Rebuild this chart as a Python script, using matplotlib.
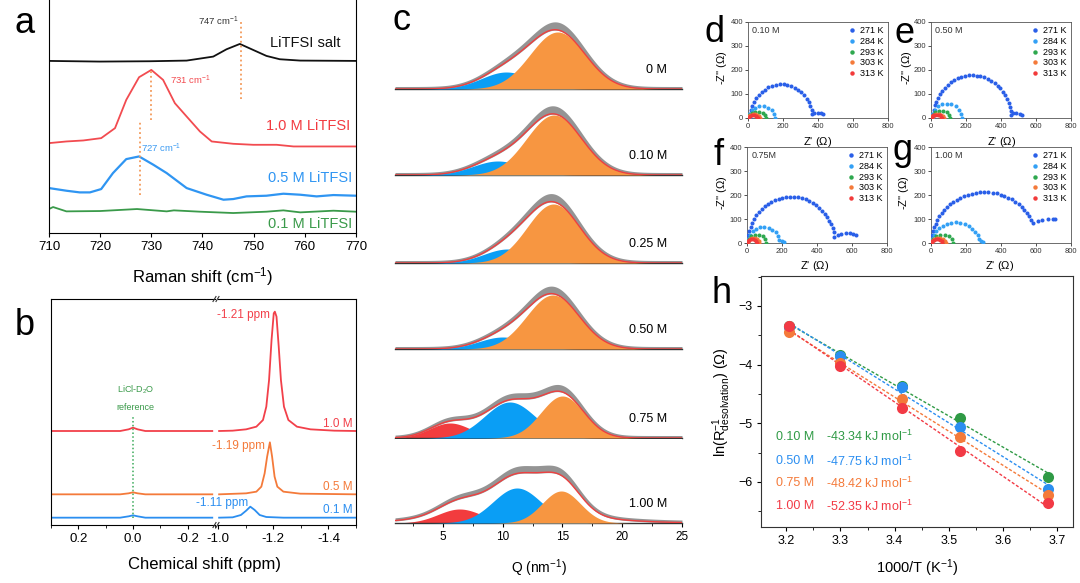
import numpy as np
import matplotlib
matplotlib.use('Agg')
import matplotlib.pyplot as plt
from matplotlib.lines import Line2D
from matplotlib.ticker import MultipleLocator

plt.rcParams['font.family'] = ['Liberation Sans', 'DejaVu Sans']
plt.rcParams['mathtext.fontset'] = 'custom'
plt.rcParams['mathtext.rm'] = 'Liberation Sans'
plt.rcParams['mathtext.it'] = 'Liberation Sans:italic'
plt.rcParams['mathtext.default'] = 'regular'
plt.rcParams['axes.linewidth'] = 0.8

# ---------------- data: panel a (Raman, stacked, a.u.) ----------------
raman_x_salt = [710, 719.9, 729.7, 736.9, 742.1, 744.7, 747.3, 749.9, 752.5, 755.1, 759.1, 770]
raman_y_salt = [517, 515, 516, 518, 530, 552, 568, 550, 532, 522, 518, 517]
raman_x_10 = [710, 713.4, 716.7, 720.2, 722.9, 725.1, 727.6, 730.0, 732.3, 734.6, 736.9, 739.5,
              741.8, 746, 749.9, 754.5, 757.8, 765.6, 770]
raman_y_10 = [270, 275, 278, 285, 315, 400, 468, 490, 460, 390, 350, 305, 275, 268, 265, 265, 260, 260, 260]
raman_x_05 = [710, 713.4, 716.0, 718.0, 720.2, 722.5, 725.1, 727.6, 730.4, 733.0, 736.9, 740.8,
              744.1, 746.0, 748.6, 752.5, 755.8, 759.1, 762.3, 765.6, 770]
raman_y_05 = [135, 127, 122, 122, 132, 180, 222, 230, 205, 180, 135, 115, 100, 102, 110, 112, 118,
              115, 110, 114, 112]
raman_x_01 = [710, 710.8, 713.4, 720.0, 727.2, 733.0, 734.4, 739.5, 746.0, 752.5, 755.8, 759.1, 765.6, 770]
raman_y_01 = [72, 78, 65, 66, 72, 65, 68, 64, 60, 64, 68, 62, 67, 64]
raman_peaks = [747.5, 730.0, 727.7]
raman_peak_lo = [402, 340, 115]
raman_peak_hi = [640, 490, 335]

# ---------------- data: panel b (7Li NMR, stacked) ----------------
nmr_left_x = [0.30, 0.047, 0.016, 0.0, -0.017, -0.045, -0.29]
nmr_left_10 = [282, 282, 287, 292, 287, 282, 282]
nmr_left_05 = [92, 92, 95, 98, 95, 92, 92]
nmr_left_01 = [22, 22, 26, 29, 26, 22, 22]
nmr_x_10 = [-1.004, -1.053, -1.102, -1.139, -1.163, -1.175, -1.185, -1.194, -1.202, -1.206, -1.212,
            -1.220, -1.228, -1.239, -1.255, -1.286, -1.335, -1.421, -1.50]
nmr_y_10 = [282, 283, 287, 295, 315, 355, 435, 555, 635, 640, 625, 535, 435, 355, 315, 295, 287, 283, 282]
nmr_x_05 = [-1.004, -1.102, -1.139, -1.157, -1.169, -1.178, -1.188, -1.196, -1.205, -1.215, -1.237, -1.298, -1.50]
nmr_y_05 = [92, 95, 100, 115, 155, 205, 248, 205, 145, 115, 100, 94, 92]
nmr_x_01 = [-1.004, -1.053, -1.083, -1.102, -1.117, -1.133, -1.151, -1.175, -1.237, -1.50]
nmr_y_01 = [22, 23, 30, 43, 55, 45, 30, 24, 22, 22]

# ---------------- data: panel c (scattering, fitted components) ----------------
c_labels = ['0 M', '0.10 M', '0.25 M', '0.50 M', '0.75 M', '1.00 M']
c_red = [(0, 5, 1), (0, 5, 1), (0, 5, 1), (0, 5, 1), (15, 5.6, 1.7), (14, 6.4, 1.8)]      # (amp, centre, width)
c_blue = [(17, 10.3, 2.1), (14, 9.6, 2.1), (14, 10.4, 2.0), (12, 10.0, 2.0), (36, 10.6, 2.1), (35, 11.2, 2.0)]
c_orange = [(57, 14.6, 2.3), (60, 14.3, 2.3), (59, 14.25, 2.2), (54, 14.2, 2.2), (42, 15.0, 1.8), (32, 14.9, 1.6)]
c_background = [(0, 11, 5.5), (0, 11, 5.5), (0, 11, 5.5), (0, 11, 5.5), (0, 11, 5.5), (12, 11, 5.5)]

# ---------------- data: panels d-g (Nyquist) ----------------
eis_titles = ['0.10 M', '0.50 M', '0.75M', '1.00 M']
eis_letters = ['d', 'e', 'f', 'g']
eis_temps = ['271 K', '284 K', '293 K', '303 K', '313 K']
arc_center = [[190, 78, 52, 34, 29], [235, 90, 57, 38, 31], [253, 95, 57, 37, 29], [306, 140, 65, 44, 33]]
arc_rx = [[178, 75, 50, 32, 27], [224, 86, 52, 34, 29], [249, 90, 53, 34, 28], [302, 135, 60, 42, 30]]
arc_ry = [[140, 50, 26, 17, 13], [178, 60, 30, 18, 14], [193, 67, 35, 20, 17], [212, 86, 36, 21, 16]]
arc_end_deg = [[6, 0, 0, 0, 0], [4, 0, 0, 0, 0], [8, 10, 0, 0, 0], [23, 10, 0, 0, 0]]
tail_x_271 = [[379, 398, 417, 429], [468, 488, 507, 518], [520, 539, 568, 588, 607, 621], [609, 637, 666, 695, 710]]
tail_y_271 = [[22, 22, 19, 17], [21, 21, 17, 14], [35, 39, 42, 40, 38, 32], [93, 97, 100, 101, 101]]
tail_x_284 = [[], [], [200, 210], [285, 298]]
tail_y_284 = [[], [], [7, 3], [10, 4]]

# ---------------- data: panel h (Arrhenius) ----------------
h_x = [3.205, 3.300, 3.413, 3.521, 3.683]
h_labels = ['0.10 M', '0.50 M', '0.75 M', '1.00 M']
h_energy = ['-43.34 kJ mol$^{-1}$', '-47.75 kJ mol$^{-1}$', '-48.42 kJ mol$^{-1}$', '-52.35 kJ mol$^{-1}$']
h_y_010 = [-3.34, -3.84, -4.37, -4.91, -5.91]
h_y_050 = [-3.36, -3.85, -4.38, -5.07, -6.12]
h_y_075 = [-3.45, -3.98, -4.59, -5.23, -6.23]
h_y_100 = [-3.35, -4.03, -4.74, -5.48, -6.36]

# ---------------- figure ----------------
W, H = 1080, 583
fig = plt.figure(figsize=(W / 100, H / 100), dpi=100)


def rect(l, t, r, b):
    return [l / W, 1 - b / H, (r - l) / W, (b - t) / H]


def ftext(x, y, s, **kw):
    fig.text(x / W, 1 - y / H, s, **kw)


C_RED = '#f2404a'
C_ORANGE = '#f47a3a'
C_BLUE = '#2b8ef0'
C_GREEN = '#2f9a45'

# ---- panel a ----
ax = fig.add_axes(rect(49, 0, 356, 233))
ax.plot(raman_x_salt, raman_y_salt, color='#111111', lw=1.3)
ax.plot(raman_x_10, raman_y_10, color='#f24b50', lw=1.3)
ax.plot(raman_x_05, raman_y_05, color='#2f95f2', lw=1.6)
ax.plot(raman_x_01, raman_y_01, color='#3a9a4a', lw=1.3)
for xp, lo, hi in zip(raman_peaks, raman_peak_lo, raman_peak_hi):
    ax.plot([xp, xp], [lo, hi], color='#f39a5a', ls=(0, (1, 1.6)), lw=1.3)
ax.set_xlim(710, 770)
ax.set_ylim(0, 700)
ax.set_yticks([])
ax.set_xticks(range(710, 771, 10))
ax.tick_params(axis='x', direction='out', length=3, labelsize=9.5, pad=3)
ax.spines['top'].set_visible(False)
ax.text(743, 635, '747 cm$^{-1}$', color='#333333', fontsize=6.8, ha='center', va='center')
ax.text(733.6, 460, '731 cm$^{-1}$', color='#f24b50', fontsize=6.8, ha='left', va='center')
ax.text(728.0, 255, '727 cm$^{-1}$', color='#3a9af2', fontsize=6.8, ha='left', va='center')
ax.text(767.0, 572, 'LiTFSI salt', color='#111111', fontsize=10.5, ha='right', va='center')
ax.text(768.8, 322, '1.0 M LiTFSI', color='#f23a40', fontsize=10.5, ha='right', va='center')
ax.text(769.2, 165, '0.5 M LiTFSI', color='#2f95f2', fontsize=10.5, ha='right', va='center')
ax.text(769.2, 28, '0.1 M LiTFSI', color='#3a9a4a', fontsize=10.5, ha='right', va='center')
ftext(203, 277, 'Raman shift (cm$^{-1}$)', fontsize=12, ha='center', va='center')
ftext(25, 33, 'a', fontsize=26, ha='center', va='baseline')

# ---- panel b (broken axis) ----
bl = fig.add_axes(rect(51, 299, 215, 525))
br = fig.add_axes(rect(218, 299, 356, 525))
for a in (bl, br):
    a.set_ylim(0, 678)
    a.set_yticks([])
    a.tick_params(axis='x', which='major', direction='out', length=3, labelsize=9.5, pad=3)
    a.tick_params(axis='x', which='minor', direction='out', length=1.8)
    a.xaxis.set_major_locator(MultipleLocator(0.2))
    a.xaxis.set_minor_locator(MultipleLocator(0.1))
bl.set_xlim(0.3, -0.3)
br.set_xlim(-1.0, -1.5)
bl.spines['right'].set_visible(False)
br.spines['left'].set_visible(False)
bl.set_xticks([0.2, 0.0, -0.2])
bl.set_xticklabels(['0.2', '0.0', '-0.2'])
br.set_xticks([-1.0, -1.2, -1.4])
br.set_xticklabels(['-1.0', '-1.2', '-1.4'])
bl.plot(nmr_left_x, nmr_left_10, color=C_RED, lw=1.3)
bl.plot(nmr_left_x, nmr_left_05, color=C_ORANGE, lw=1.3)
bl.plot(nmr_left_x, nmr_left_01, color=C_BLUE, lw=1.3)
bl.plot([0, 0], [22, 325], color='#3aaa5a', ls=(0, (1, 1.5)), lw=1.1)
br.plot(nmr_x_10, nmr_y_10, color=C_RED, lw=1.3)
br.plot(nmr_x_05, nmr_y_05, color=C_ORANGE, lw=1.3)
br.plot(nmr_x_01, nmr_y_01, color=C_BLUE, lw=1.3)
bl.text(-0.01, 405, 'LiCl-D$_2$O', color='#3a9a4a', fontsize=6.5, ha='center', va='center')
bl.text(-0.01, 353, 'reference', color='#3a9a4a', fontsize=6.5, ha='center', va='center')
br.text(-1.188, 630, '-1.21 ppm', color=C_RED, fontsize=8.5, ha='right', va='center')
br.text(-1.169, 238, '-1.19 ppm', color=C_ORANGE, fontsize=8.5, ha='right', va='center')
br.text(-1.108, 65, '-1.11 ppm', color=C_BLUE, fontsize=8.5, ha='right', va='center')
br.text(-1.488, 303, '1.0 M', color=C_RED, fontsize=8.5, ha='right', va='center')
br.text(-1.488, 113, '0.5 M', color=C_ORANGE, fontsize=8.5, ha='right', va='center')
br.text(-1.488, 45, '0.1 M', color=C_BLUE, fontsize=8.5, ha='right', va='center')
for yb in (299, 525):
    for dx in (-2.0, 1.0):
        x0 = 216.5 + dx
        fig.add_artist(Line2D([(x0 - 1.5) / W, (x0 + 1.5) / W], [1 - (yb + 2.5) / H, 1 - (yb - 2.5) / H],
                              transform=fig.transFigure, color='#333333', lw=0.8))
ftext(204, 565, 'Chemical shift (ppm)', fontsize=12, ha='center', va='center')
ftext(25, 335, 'b', fontsize=26, ha='center', va='baseline')

# ---- panel c ----
Q = np.linspace(1, 25, 800)


def gauss(p):
    a, m, s = p
    return a * np.exp(-(Q - m) ** 2 / (2 * s ** 2))


baselines = [89, 175, 263, 349, 438, 523]
for i, yb in enumerate(baselines):
    a = fig.add_axes(rect(395, yb - 84, 682, yb))
    r = gauss(c_red[i])
    b = gauss(c_blue[i])
    o = gauss(c_orange[i])
    fit = r + b + o + gauss(c_background[i])
    a.fill_between(Q, fit - 0.5, fit + 2.5 + 0.09 * fit, color='#7a7a7a', alpha=0.8, lw=0, zorder=1)
    if c_red[i][0] > 0:
        a.fill_between(Q, 0, r, color='#f23c3e', lw=0, zorder=2)
    a.fill_between(Q, 0, b, color='#0a9ef5', lw=0, zorder=3)
    a.fill_between(Q, 0, o, color='#f79641', lw=0, zorder=4)
    a.plot(Q, fit, color='#ee4040', lw=1.0, zorder=5)
    a.set_xlim(1, 25)
    a.set_ylim(0, 84)
    a.set_yticks([])
    for s in ('left', 'right', 'top'):
        a.spines[s].set_visible(False)
    a.spines['bottom'].set_color('#333333')
    a.spines['bottom'].set_linewidth(1.0)
    a.text(23.75, 19, c_labels[i], fontsize=9, ha='right', va='center')
    if i < len(baselines) - 1:
        a.set_xticks([])
    else:
        a.xaxis.set_major_locator(MultipleLocator(5))
        a.xaxis.set_minor_locator(MultipleLocator(2.5))
        a.tick_params(axis='x', which='major', direction='out', length=3, labelsize=8.5, pad=3)
        a.tick_params(axis='x', which='minor', direction='out', length=2)
        a.set_xticks([5, 10, 15, 20, 25])
ftext(539, 568, 'Q (nm$^{-1}$)', fontsize=10, ha='center', va='center')
ftext(401, 30, 'c', fontsize=26, ha='center', va='baseline')

# ---- panels d-g ----
eis_colors = ['#2a5fe8', '#33a0f5', '#2fa84f', '#f47a3a', '#f23a3a']
eis_rects = [(748, 22, 888, 118), (931, 22, 1071, 118), (747, 147, 887, 243), (931, 147, 1071, 243)]
eis_letter_pos = [(714, 42), (904, 43), (719, 165), (902, 160)]
eis_xlabel_pos = [(818, 142), (1002, 142), (815, 266), (1000, 266)]
eis_ylabel_x = [722, 907, 722, 904]
sx, sy = 140 / 800, 96 / 400
for k in range(4):
    l, t, r_, b_ = eis_rects[k]
    a = fig.add_axes(rect(l, t, r_, b_))
    for j in range(5):
        c0, rx, ry = arc_center[k][j], arc_rx[k][j], arc_ry[k][j]
        th_end = np.deg2rad(arc_end_deg[k][j])
        tt = np.linspace(np.pi, th_end, 400)
        px = np.hypot(np.diff(rx * np.cos(tt) * sx), np.diff(ry * np.sin(tt) * sy)).sum()
        n = max(8, int(px / 3.9))
        th = np.linspace(np.pi, th_end, n)
        xs = list(c0 + rx * np.cos(th))
        ys = list(ry * np.sin(th))
        if j == 0:
            xs += tail_x_271[k]
            ys += tail_y_271[k]
        if j == 1:
            xs += tail_x_284[k]
            ys += tail_y_284[k]
        a.plot(xs, ys, 'o', ms=2.9, mew=0, color=eis_colors[j], zorder=3 + j)
    a.set_xlim(0, 800)
    a.set_ylim(0, 400)
    a.set_xticks([0, 200, 400, 600, 800])
    a.set_yticks([0, 100, 200, 300, 400])
    a.tick_params(direction='out', length=2, width=0.6, labelsize=5.5, pad=1.5, colors='#333333')
    for s in a.spines.values():
        s.set_color('#555555')
        s.set_linewidth(0.6)
    handles = [Line2D([], [], marker='o', ls='', color=c, ms=3.2, mew=0) for c in eis_colors]
    a.legend(handles, eis_temps, loc='upper right', fontsize=6.5, frameon=False, handletextpad=0.3,
             labelspacing=0.2, borderaxespad=0.25, handlelength=1.2, borderpad=0.2)
    a.text(0.03, 0.91, eis_titles[k], transform=a.transAxes, fontsize=6.5, color='#333333', ha='left', va='center')
    lx, ly = eis_letter_pos[k]
    ftext(lx, ly, eis_letters[k], fontsize=26, ha='center', va='baseline')
    xx, xy = eis_xlabel_pos[k]
    ftext(xx, xy, "Z' ($\\Omega$)", fontsize=8, ha='center', va='center')
    ftext(eis_ylabel_x[k], (t + b_) / 2 - 2, "-Z'' ($\\Omega$)", fontsize=8, ha='center', va='center', rotation=90)

# ---- panel h ----
ah = fig.add_axes(rect(761, 276, 1073, 527))
h_series = [h_y_010, h_y_050, h_y_075, h_y_100]
h_colors = ['#2f9a45', '#2b8ef0', '#f47a3a', '#f23a45']
for ys, col in zip(h_series, h_colors):
    p = np.polyfit(h_x, ys, 1)
    xl = np.array([h_x[0], h_x[-1]])
    ah.plot(xl, np.polyval(p, xl), color=col, ls=(0, (2.2, 1.4)), lw=1.0, zorder=2)
for ys, col in zip(h_series, h_colors):
    ah.plot(h_x, ys, 'o', ms=8, mew=0, color=col, zorder=3)
ah.set_xlim(3.153, 3.730)
ah.set_ylim(-6.77, -2.49)
ah.xaxis.set_major_locator(MultipleLocator(0.1))
ah.xaxis.set_minor_locator(MultipleLocator(0.05))
ah.yaxis.set_major_locator(MultipleLocator(1))
ah.yaxis.set_minor_locator(MultipleLocator(0.5))
ah.set_xticks([3.2, 3.3, 3.4, 3.5, 3.6, 3.7])
ah.set_yticks([-3, -4, -5, -6])
ah.tick_params(which='major', direction='out', length=3, labelsize=9, pad=3)
ah.tick_params(which='minor', direction='out', length=2)
for s in ah.spines.values():
    s.set_color('#333333')
row_y = [-5.23, -5.65, -6.02, -6.42]
for lab, en, yy, col in zip(h_labels, h_energy, row_y, h_colors):
    ah.text(3.18, yy, lab, color=col, fontsize=9, ha='left', va='center')
    ah.text(3.274, yy, en, color=col, fontsize=9, ha='left', va='center')
ftext(917, 568, '1000/T (K$^{-1}$)', fontsize=10.5, ha='center', va='center')
ftext(722, 402, 'ln(R$^{-1}_{desolvation}$) ($\\Omega$)', fontsize=10.5, ha='center', va='center', rotation=90)
ftext(722, 303, 'h', fontsize=26, ha='center', va='baseline')

fig.savefig('out.png', dpi=100)
